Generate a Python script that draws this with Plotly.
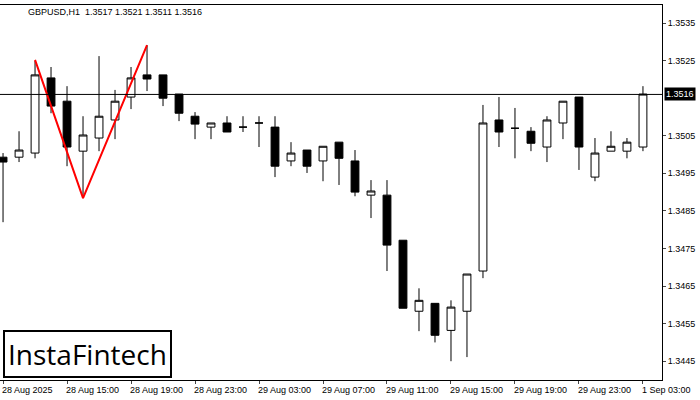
import plotly.graph_objects as go

opens = [1.34993, 1.34993, 1.35004, 1.35204, 1.35142, 1.35009, 1.35044, 1.35092, 1.35153, 1.35212,
         1.35212, 1.35161, 1.35102, 1.35073, 1.35084, 1.35073, 1.35084, 1.35073, 1.34983, 1.35012,
         1.34983, 1.35033, 1.34983, 1.34892, 1.34892, 1.34772, 1.34583, 1.34604, 1.34532, 1.34583,
         1.34690, 1.35092, 1.35070, 1.35062, 1.35020, 1.35084, 1.35153, 1.34940, 1.35009, 1.35009,
         1.35020]
highs = [1.35004, 1.35062, 1.35249, 1.35233, 1.35182, 1.35102, 1.35262, 1.35172, 1.35233, 1.35291,
         1.35212, 1.35161, 1.35113, 1.35084, 1.35102, 1.35102, 1.35102, 1.35102, 1.35033, 1.35012,
         1.35022, 1.35033, 1.35012, 1.34932, 1.34932, 1.34772, 1.34644, 1.34604, 1.34612, 1.34682,
         1.35132, 1.35153, 1.35124, 1.35073, 1.35102, 1.35142, 1.35153, 1.35044, 1.35062, 1.35044,
         1.35182]
lows = [1.34820, 1.34980, 1.34990, 1.35110, 1.34969, 1.34884, 1.35009, 1.35041, 1.35121, 1.35169,
        1.35129, 1.35089, 1.35041, 1.35041, 1.35060, 1.35060, 1.35020, 1.34940, 1.34969, 1.34951,
        1.34929, 1.34919, 1.34889, 1.34831, 1.34690, 1.34591, 1.34530, 1.34500, 1.34450, 1.34461,
        1.34671, 1.35020, 1.34990, 1.35009, 1.34980, 1.35041, 1.34959, 1.34929, 1.35009, 1.34990,
        1.35009]
closes = [1.34980, 1.35012, 1.35212, 1.35129, 1.35020, 1.35052, 1.35102, 1.35142, 1.35204, 1.35201,
          1.35150, 1.35110, 1.35081, 1.35084, 1.35060, 1.35073, 1.35084, 1.34969, 1.35004, 1.34969,
          1.35022, 1.34990, 1.34900, 1.34903, 1.34759, 1.34591, 1.34612, 1.34519, 1.34594, 1.34682,
          1.35084, 1.35060, 1.35070, 1.35030, 1.35092, 1.35142, 1.35020, 1.35004, 1.35022, 1.35033,
          1.35161]

x_labels = ["28 Aug 2025", "28 Aug 15:00", "28 Aug 19:00", "28 Aug 23:00", "29 Aug 03:00",
            "29 Aug 07:00", "29 Aug 11:00", "29 Aug 15:00", "29 Aug 19:00", "29 Aug 23:00",
            "1 Sep 03:00"]
x_label_pos = [0, 4, 8, 12, 16, 20, 24, 28, 32, 36, 40]
y_ticks = [1.3445, 1.3455, 1.3465, 1.3475, 1.3485, 1.3495, 1.3505, 1.3525, 1.3535]

pattern_x = [2, 5, 9]
pattern_y = [1.35252, 1.34884, 1.35291]

last_price = 1.3516
title = "GBPUSD,H1  1.3517 1.3521 1.3511 1.3516"

idx = list(range(len(opens)))
small = {"color": "black", "size": 9, "family": "Liberation Sans"}

fig = go.Figure()
fig.add_trace(go.Candlestick(
    x=idx, open=opens, high=highs, low=lows, close=closes,
    increasing={"line": {"color": "black", "width": 1}, "fillcolor": "white"},
    decreasing={"line": {"color": "black", "width": 1}, "fillcolor": "black"},
    whiskerwidth=0, showlegend=False, hoverinfo="skip",
))
fig.add_trace(go.Scatter(
    x=pattern_x, y=pattern_y, mode="lines",
    line={"color": "#ff0000", "width": 2}, showlegend=False,
))
fig.add_hline(y=last_price, line={"color": "black", "width": 1})

fig.add_annotation(
    x=1, xref="paper", y=last_price, yref="y", xanchor="left", xshift=2, text=f"{last_price:.4f}",
    showarrow=False, bgcolor="black", font={**small, "color": "white"}, borderpad=1,
)
fig.add_annotation(
    x=0.04, xref="paper", y=1, yref="paper", yanchor="top", xanchor="left", text=title,
    showarrow=False, font=small,
)
fig.add_annotation(
    x=0.004, xref="paper", y=0.005, yref="paper", xanchor="left", yanchor="bottom",
    text="InstaFintech", showarrow=False, bgcolor="white", bordercolor="black", borderwidth=2,
    borderpad=3, font={"color": "black", "size": 28, "family": "Open Sans"},
)
for pos, label in zip(x_label_pos, x_labels):
    fig.add_annotation(
        x=pos - 0.15, xref="x", y=0, yref="paper", yanchor="top", xanchor="left", yshift=-3,
        xshift=-1, text=label, showarrow=False, font=small,
    )

fig.update_layout(
    width=700, height=400,
    margin={"l": 0, "r": 38, "t": 5, "b": 20},
    paper_bgcolor="white", plot_bgcolor="white",
    font=small,
    xaxis={
        "range": [-0.19, 41.19], "rangeslider": {"visible": False},
        "tickvals": x_label_pos, "showticklabels": False,
        "showgrid": False, "zeroline": False, "ticks": "outside", "ticklen": 3,
        "showline": True, "linecolor": "black", "mirror": True,
    },
    yaxis={
        "side": "right", "range": [1.34400, 1.35398], "tickvals": y_ticks,
        "tickformat": ".4f", "showgrid": False, "zeroline": False, "ticks": "outside",
        "ticklen": 3, "ticklabelstandoff": 0, "showline": True, "linecolor": "black",
        "mirror": True,
    },
)

fig.write_html(
    "out.html",
    config={"displayModeBar": False},
    post_script="document.body.style.margin = '0';",
)
